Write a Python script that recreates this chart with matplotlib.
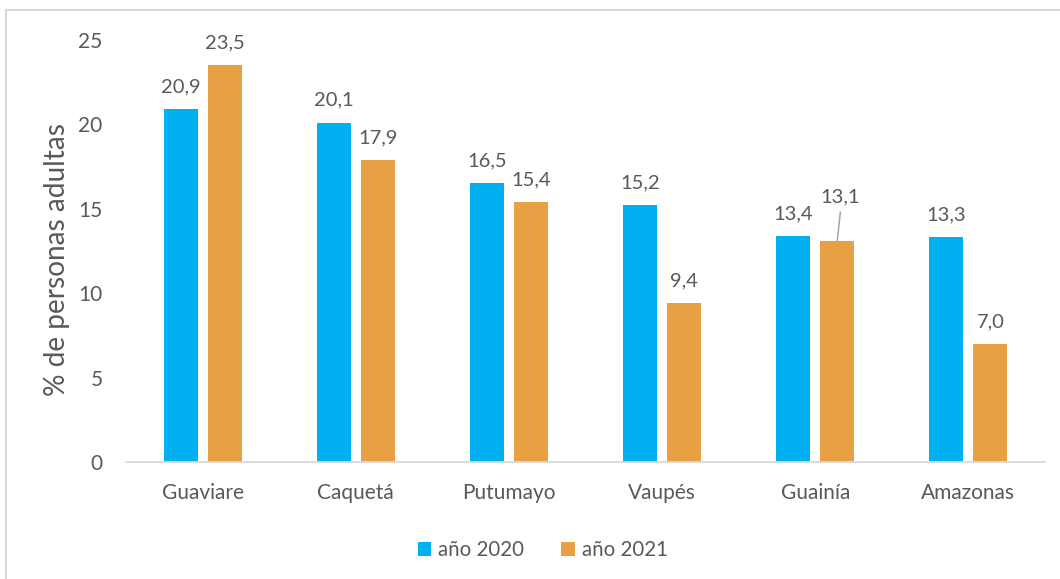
import matplotlib
matplotlib.use("Agg")
import matplotlib.pyplot as plt
from matplotlib.lines import Line2D
from matplotlib.patches import Patch
import numpy as np

departamentos = ["Guaviare", "Caquetá", "Putumayo", "Vaupés", "Guainía", "Amazonas"]
valores_2020 = [20.9, 20.1, 16.5, 15.2, 13.4, 13.3]
valores_2021 = [23.5, 17.9, 15.4, 9.4, 13.1, 7.0]
series = ["año 2020", "año 2021"]
y_ticks = [0, 5, 10, 15, 20, 25]

AZUL = "#00B0F0"
NARANJA = "#E8A045"
GRIS_TEXTO = "#595959"

plt.rcParams["font.family"] = ["Lato", "DejaVu Sans"]

fig = plt.figure(figsize=(10.6, 5.79), dpi=100)
ax = fig.add_axes([0.1189, 0.2021, 0.8669, 0.7288])

x = np.arange(len(departamentos))
ancho = 0.222
desplaz = 0.144

b1 = ax.bar(x - desplaz, valores_2020, ancho, color=AZUL, label=series[0], zorder=2)
b2 = ax.bar(x + desplaz, valores_2021, ancho, color=NARANJA, label=series[1], zorder=2)

ax.set_xlim(-0.5, len(departamentos) - 0.5)
ax.set_ylim(0, 25)
ax.set_yticks(y_ticks)
ax.set_xticks(x)
ax.set_xticklabels(departamentos)

for s in ["top", "right", "left"]:
    ax.spines[s].set_visible(False)
ax.spines["bottom"].set_color("#D9D9D9")
ax.spines["bottom"].set_linewidth(1.3)
ax.tick_params(axis="both", length=0, labelsize=15, colors=GRIS_TEXTO)
ax.tick_params(axis="y", pad=17)
ax.tick_params(axis="x", pad=15)

ax.set_ylabel("% de personas adultas", fontsize=20.2, color=GRIS_TEXTO)
ax.yaxis.set_label_coords(-0.061, 0.48)


def etiqueta(v):
    return f"{v:.1f}".replace(".", ",")


# Value labels above each bar
for barras, vals in ((b1, valores_2020), (b2, valores_2021)):
    for i, (rect, v) in enumerate(zip(barras, vals)):
        cx = rect.get_x() + rect.get_width() / 2
        if barras is b2 and departamentos[i] == "Guainía":
            # label pushed up with a leader line
            ax.annotate(etiqueta(v), xy=(cx, v), xytext=(cx + 0.02, v + 2.6),
                        ha="center", va="center", fontsize=14.5, color=GRIS_TEXTO,
                        zorder=3)
            ax.plot([cx, cx + 0.02], [v, v + 1.7], color="#A6A6A6", lw=1.1,
                    zorder=3, clip_on=False)
        else:
            ax.annotate(etiqueta(v), xy=(cx, v), xytext=(0, 10),
                        textcoords="offset points", ha="center", va="bottom",
                        fontsize=14.5, color=GRIS_TEXTO)

handles = [Patch(facecolor=AZUL, label=series[0]),
           Patch(facecolor=NARANJA, label=series[1])]
fig.legend(handles=handles, loc="center", bbox_to_anchor=(0.512, 0.05), ncol=2,
           frameon=False, fontsize=14.8, handlelength=0.65, handleheight=0.65,
           handletextpad=0.35, columnspacing=1.8, labelcolor=GRIS_TEXTO)

# Chart area frame
fig.add_artist(Line2D([5.5 / 1060, 5.5 / 1060], [0, 1 - 10 / 579],
                      transform=fig.transFigure, color="#D9D9D9", lw=1.5))
fig.add_artist(Line2D([5.5 / 1060, 1], [1 - 10 / 579, 1 - 10 / 579],
                      transform=fig.transFigure, color="#D9D9D9", lw=1.5))

fig.savefig("out.png", dpi=100, facecolor="white")
